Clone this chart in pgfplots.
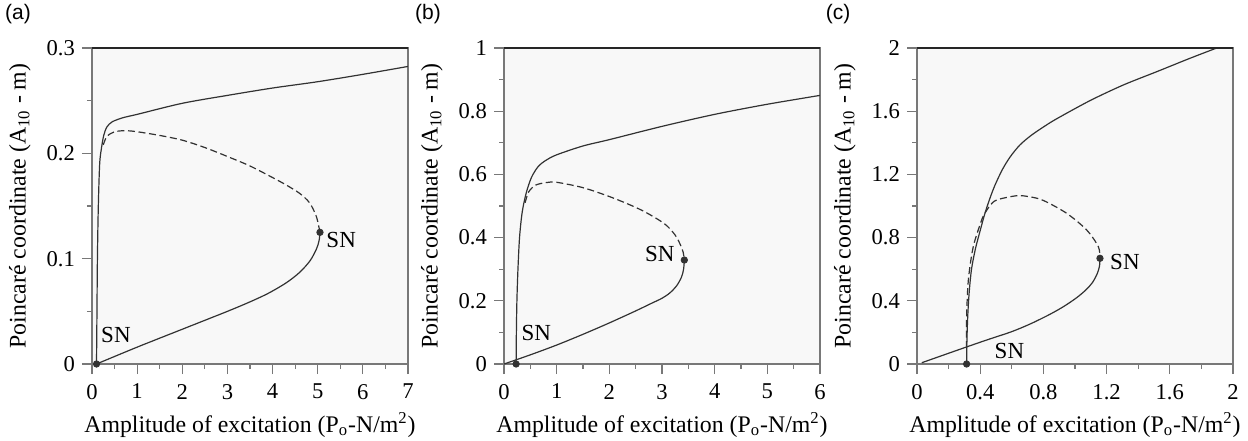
\documentclass[border=0pt]{standalone}
\usepackage{fontspec}
\setmainfont{Liberation Serif}
\newfontfamily\labelsans{Liberation Sans}
\usepackage{pgfplots}
\pgfplotsset{compat=1.18}
\definecolor{bgc}{RGB}{248,248,248}
\definecolor{axc}{RGB}{120,120,120}
\definecolor{cur}{RGB}{50,50,50}
\tikzset{snl/.style={font=\fontsize{11.5}{13}\selectfont}}
\pgfplotsset{
  panel/.style={
    scale only axis, width=158pt, height=158pt,
    anchor=south west,
    axis background/.style={fill=bgc},
    axis line style={axc, line width=0.6pt},
    tick style={axc, line width=0.6pt},
    tick align=outside,
    major tick length=5pt, minor tick length=2.5pt,
    xtick pos=bottom, ytick pos=left,
    minor x tick num=1, minor y tick num=1,
    font=\fontsize{11.3}{13}\selectfont,
    /pgf/number format/assume math mode=true,
    xticklabel style={yshift=-1.5pt},
    xlabel={Amplitude of excitation (P\textsubscript{o}-N/m\textsuperscript{2})},
    ylabel={Poincaré coordinate (A\textsubscript{10} - m)},
    label style={font=\fontsize{11.9}{14}\selectfont},
    xlabel style={at={(axis description cs:0.5,-0.193)}, anchor=center},
    ylabel style={at={(axis description cs:-0.228,0.5)}, anchor=center},
    clip=true,
    after end axis/.code={\draw[black!85, line width=0.7pt] (rel axis cs:0,1) -- (rel axis cs:1,1);},
  },
  sol/.style={cur, line width=0.6pt, smooth, tension=0.5, no marks},
  das/.style={cur, line width=0.6pt, smooth, tension=0.5, no marks, dash pattern=on 3.5pt off 1.8pt},
  dot/.style={only marks, mark=*, mark size=1.6pt, cur},
}
\begin{document}
\begin{tikzpicture}
\useasboundingbox (0,0) rectangle (624pt,220pt);
\node[font=\labelsans\fontsize{10.5}{12}\selectfont] at (9pt,213pt) {(a)};
\node[font=\labelsans\fontsize{10.5}{12}\selectfont] at (214pt,213pt) {(b)};
\node[font=\labelsans\fontsize{10.5}{12}\selectfont] at (419pt,213pt) {(c)};
% ---------- (a)
\begin{axis}[panel, at={(46pt,38pt)},
  xmin=0, xmax=7, ymin=0, ymax=0.3,
  xtick={0,1,...,7}, ytick={0,0.1,0.2,0.3}]
\addplot[sol] coordinates {(0.10,0) (0.11,0.05) (0.12,0.10) (0.14,0.15) (0.17,0.19) (0.21,0.205) (0.26,0.217) (0.33,0.225) (0.45,0.230) (0.7,0.234) (1,0.237) (2,0.2475) (3,0.255) (4,0.262) (5,0.268) (6,0.275) (7,0.2825)};
\addplot[das] coordinates {(0.25,0.208) (0.33,0.216) (0.5,0.2205) (0.75,0.2215) (1,0.2205) (1.5,0.217) (2,0.2125) (2.5,0.2055) (3,0.197) (3.5,0.188) (4,0.177) (4.3,0.170) (4.6,0.162) (4.82,0.153) (4.97,0.140) (5.05,0.125)};
\addplot[sol] coordinates {(0.10,0) (1,0.016) (2,0.033) (3,0.050) (3.5,0.059) (3.9,0.067) (4.3,0.077) (4.6,0.087) (4.83,0.098) (4.97,0.109) (5.03,0.117) (5.05,0.125)};
\addplot[dot] coordinates {(0.10,0) (5.05,0.125)};
\node[snl] at (axis cs:0.53,0.0275) {SN};
\node[snl] at (axis cs:5.52,0.118) {SN};
\end{axis}
% ---------- (b)
\begin{axis}[panel, at={(252pt,38pt)},
  xmin=0, xmax=6, ymin=0, ymax=1,
  xtick={0,1,...,6}, ytick={0,0.2,0.4,0.6,0.8,1}]
\addplot[sol] coordinates {(0.23,0) (0.235,0.1) (0.245,0.2) (0.265,0.3) (0.295,0.4) (0.345,0.48) (0.42,0.54) (0.52,0.59) (0.65,0.625) (0.8,0.645) (1,0.662) (1.5,0.69) (2,0.71) (3,0.752) (4,0.790) (5,0.822) (6,0.85)};
\addplot[das] coordinates {(0.40,0.51) (0.47,0.545) (0.6,0.566) (0.8,0.574) (1,0.575) (1.5,0.558) (2,0.53) (2.4,0.503) (2.645,0.484) (2.9,0.46) (3.089,0.438) (3.25,0.408) (3.342,0.38) (3.40,0.355) (3.424,0.329)};
\addplot[sol] coordinates {(0,0) (0.5,0.029) (1,0.06) (1.5,0.094) (2,0.13) (2.5,0.168) (2.8,0.192) (3.0,0.208) (3.15,0.225) (3.28,0.248) (3.37,0.275) (3.41,0.30) (3.424,0.329)};
\addplot[dot] coordinates {(0.23,0) (3.424,0.329)};
\node[snl] at (axis cs:0.615,0.098) {SN};
\node[snl] at (axis cs:2.96,0.349) {SN};
\end{axis}
% ---------- (c)
\begin{axis}[panel, at={(458.5pt,38pt)},
  xmin=0, xmax=2, ymin=0, ymax=2,
  xtick={0,0.4,...,2}, ytick={0,0.4,...,2}]
\addplot[sol] coordinates {(0.314,0) (0.316,0.15) (0.321,0.3) (0.33,0.45) (0.345,0.6) (0.37,0.73) (0.40,0.845) (0.43,0.954) (0.462,1.05) (0.494,1.133) (0.54,1.23) (0.589,1.31) (0.65,1.385) (0.72,1.445) (0.8,1.50) (0.884,1.552) (1.095,1.667) (1.306,1.766) (1.517,1.85) (1.728,1.935) (1.897,2.0)};
\addplot[das] coordinates {(0.313,0.1) (0.314,0.3) (0.325,0.532) (0.356,0.742) (0.409,0.911) (0.43,0.954) (0.46,1.0) (0.504,1.038) (0.631,1.065) (0.715,1.058) (0.80,1.035) (0.947,0.954) (1.074,0.848) (1.148,0.742) (1.158,0.669)};
\addplot[sol] coordinates {(0.03,0.008) (0.2,0.068) (0.314,0.108) (0.45,0.155) (0.6,0.205) (0.72,0.255) (0.842,0.315) (0.93,0.365) (1.011,0.42) (1.07,0.47) (1.11,0.515) (1.14,0.57) (1.155,0.62) (1.158,0.669)};
\addplot[dot] coordinates {(0.314,0) (1.158,0.669)};
\node[snl] at (axis cs:0.585,0.084) {SN};
\node[snl] at (axis cs:1.316,0.643) {SN};
\end{axis}
\end{tikzpicture}
\end{document}
